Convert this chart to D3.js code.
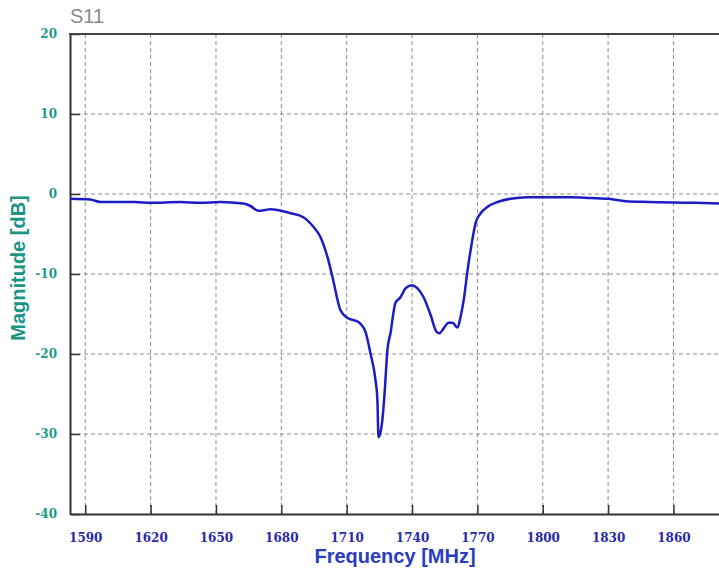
<html>
<head>
    <meta charset="utf-8">
    <title>S11</title>
    <script type="text/javascript" src="https://cdn.jsdelivr.net/npm/d3@7"></script>
    <style>
        body { margin: 0; background: #ffffff; }
    </style>
</head>
<body>

<div id="s11-chart-container"></div>

<script type="text/javascript">

    var frequencies = [
        1583.1, 1592.3, 1596.9, 1613.0, 1619.9, 1633.6, 1642.8, 1652.0, 1662.6, 1665.8,
        1669.5, 1672.7, 1675.0, 1684.2, 1690.1, 1694.7, 1698.0, 1701.2, 1703.5, 1707.1,
        1710.4, 1715.4, 1718.6, 1720.9, 1723.2, 1724.1, 1724.6, 1725.1, 1726.4, 1727.4,
        1728.7, 1730.1, 1732.4, 1734.7, 1737.0, 1739.8, 1742.5, 1745.3, 1748.5, 1751.2,
        1752.6, 1754.5, 1756.8, 1758.6, 1760.9, 1762.3, 1763.7, 1765.5, 1766.9, 1769.2,
        1771.5, 1774.7, 1779.3, 1785.2, 1793.1, 1812.8, 1822.0, 1830.3, 1838.1, 1848.6,
        1870.2, 1881.3
    ];
    var magnitudes = [
        -0.6, -0.7, -1.0, -1.0, -1.1, -1.0, -1.1, -1.0, -1.2, -1.5,
        -2.1, -2.0, -1.9, -2.4, -2.9, -4.1, -5.4, -7.9, -10.4, -14.5,
        -15.5, -16.0, -17.2, -19.9, -23.2, -25.7, -30.4, -30.2, -28.2, -24.9,
        -19.5, -17.4, -13.6, -12.9, -11.8, -11.4, -11.8, -12.9, -15.1, -17.2,
        -17.4, -16.8, -16.1, -16.1, -16.7, -15.3, -13.3, -9.5, -7.0, -3.6,
        -2.4, -1.6, -1.0, -0.6, -0.4, -0.4, -0.5, -0.6, -0.9, -1.0,
        -1.1, -1.2
    ];

    // Tick values on both axes
    var xTicks = [1590, 1620, 1650, 1680, 1710, 1740, 1770, 1800, 1830, 1860];
    var yTicks = [-40, -30, -20, -10, 0, 10, 20];

    var trace = frequencies.map(function (f, i) { return {f: f, db: magnitudes[i]}; });

    var WIDTH = 719, HEIGHT = 573;
    var LEFT = 70, TOP = 34, BOTTOM = 514, RIGHT = 741;

    var canvas = d3.select("#s11-chart-container").append("svg")
        .attr("width", WIDTH)
        .attr("height", HEIGHT);

    // the plot runs off the right edge of the picture
    var x = d3.scaleLinear().domain([1583, 1891]).range([LEFT, RIGHT]);
    var y = d3.scaleLinear().domain([-40, 20]).range([BOTTOM, TOP]);

    // dashed grid
    canvas.append("g").selectAll("line")
        .data(xTicks)
        .enter().append("line")
        .attr("x1", function (d) { return x(d); })
        .attr("x2", function (d) { return x(d); })
        .attr("y1", TOP)
        .attr("y2", BOTTOM)
        .attr("stroke", "#8c8c8c")
        .attr("stroke-width", 1)
        .attr("stroke-dasharray", "4,3");

    canvas.append("g").selectAll("line")
        .data(yTicks.filter(function (d) { return d > -40 && d < 20; }))
        .enter().append("line")
        .attr("x1", LEFT)
        .attr("x2", WIDTH)
        .attr("y1", function (d) { return y(d); })
        .attr("y2", function (d) { return y(d); })
        .attr("stroke", "#8c8c8c")
        .attr("stroke-width", 1)
        .attr("stroke-dasharray", "4,3");

    // plain labels: hyphen minus, no thousands separator
    var plain = function (d) { return String(d); };

    // axes with inward ticks
    var xAxis = d3.axisBottom(x).tickValues(xTicks).tickFormat(plain)
        .tickSizeInner(-9).tickSizeOuter(0).tickPadding(19);
    var yAxis = d3.axisLeft(y).tickValues(yTicks).tickFormat(plain)
        .tickSizeInner(-10).tickSizeOuter(0).tickPadding(13);

    var gx = canvas.append("g").attr("transform", "translate(0," + BOTTOM + ")").call(xAxis);
    var gy = canvas.append("g").attr("transform", "translate(" + LEFT + ",0)").call(yAxis);

    gx.select(".domain").attr("stroke", "#333").attr("stroke-width", 2);
    gy.select(".domain").attr("stroke", "#333").attr("stroke-width", 2);
    gx.selectAll(".tick line").attr("stroke", "#333").attr("stroke-width", 1.5);
    gy.selectAll(".tick line").attr("stroke", "#333").attr("stroke-width", 1.5);

    gx.selectAll(".tick text")
        .attr("fill", "#2a2aa8")
        .attr("font-family", "DejaVu Serif")
        .attr("font-weight", "bold")
        .attr("font-size", 12);
    gy.selectAll(".tick text")
        .attr("fill", "#1f9a8c")
        .attr("font-family", "DejaVu Serif")
        .attr("font-weight", "bold")
        .attr("font-size", 12)
        .attr("text-anchor", "end");

    // top border
    canvas.append("line")
        .attr("x1", LEFT - 1).attr("x2", WIDTH)
        .attr("y1", TOP).attr("y2", TOP)
        .attr("stroke", "#444")
        .attr("stroke-width", 2);

    // the trace
    var line = d3.line()
        .x(function (d) { return x(d.f); })
        .y(function (d) { return y(d.db); })
        .curve(d3.curveMonotoneX);

    canvas.append("path")
        .datum(trace)
        .attr("d", line)
        .attr("fill", "none")
        .attr("stroke", "#1c1cc4")
        .attr("stroke-width", 2.5)
        .attr("stroke-linejoin", "round");

    // titles
    canvas.append("text")
        .text("S11")
        .attr("x", 70)
        .attr("y", 23)
        .attr("font-family", "Liberation Sans, Arial, sans-serif")
        .attr("font-size", 20)
        .attr("fill", "#8a8a8a");

    canvas.append("text")
        .text("Frequency [MHz]")
        .attr("x", 395)
        .attr("y", 563)
        .attr("text-anchor", "middle")
        .attr("font-family", "Liberation Sans, Arial, sans-serif")
        .attr("font-weight", "bold")
        .attr("font-size", 20)
        .attr("fill", "#2a3cc0");

    canvas.append("text")
        .text("Magnitude [dB]")
        .attr("transform", "translate(25,268) rotate(-90)")
        .attr("text-anchor", "middle")
        .attr("font-family", "Liberation Sans, Arial, sans-serif")
        .attr("font-weight", "bold")
        .attr("font-size", 20)
        .attr("fill", "#1a9484");

</script>

</body>
</html>
